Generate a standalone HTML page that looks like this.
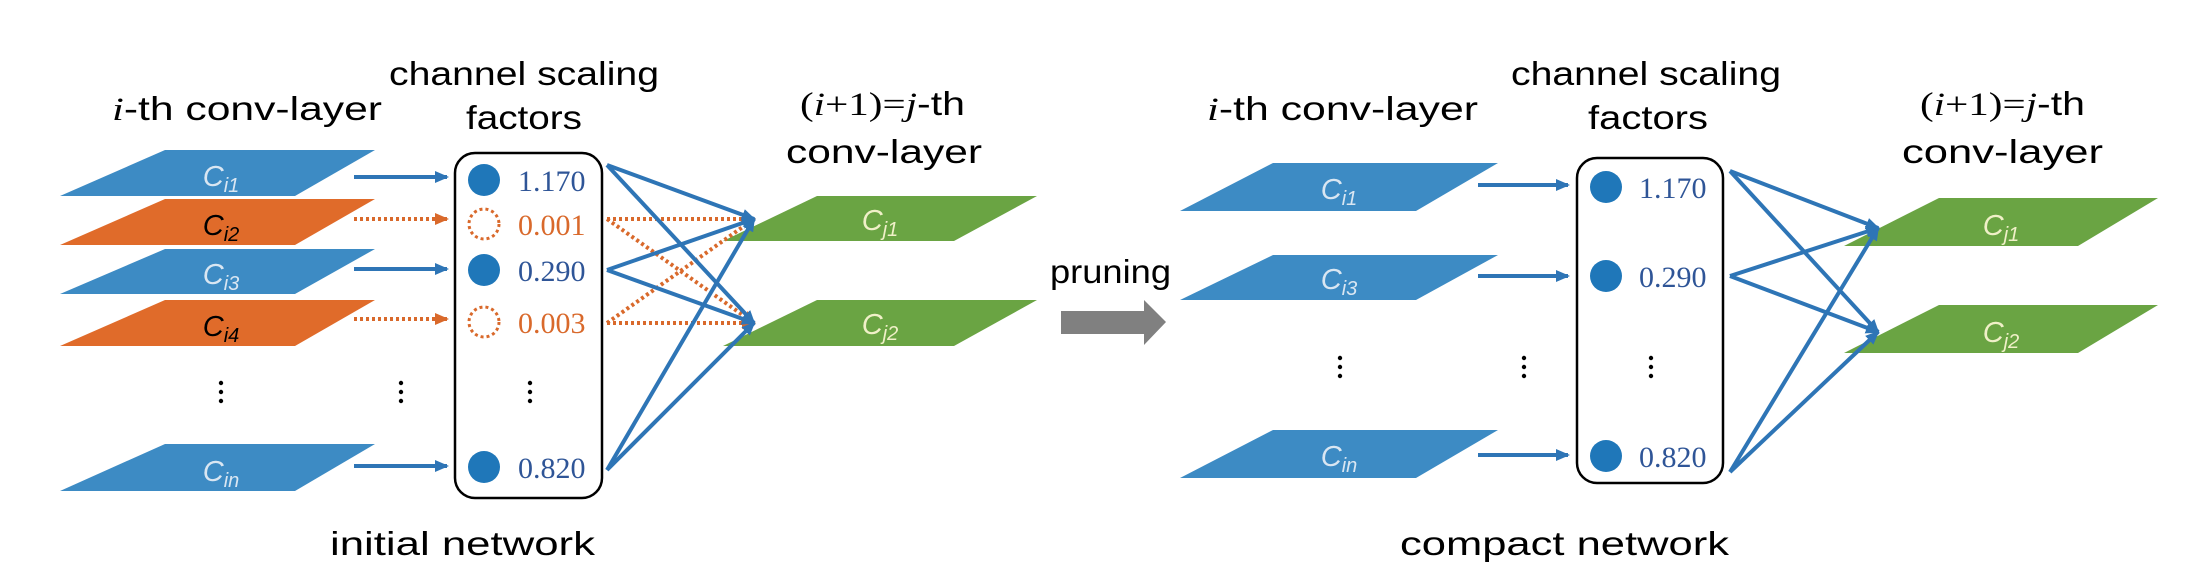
<!DOCTYPE html>
<html><head><meta charset="utf-8"><style>
html,body{margin:0;padding:0;background:#fff;}
svg{display:block;}
.t{font-family:"Liberation Sans",sans-serif;font-size:33px;fill:#000;}
.n{font-family:"Liberation Serif",serif;font-size:30px;}
.c{font-family:"Liberation Sans",sans-serif;font-style:italic;font-size:29px;}
</style></head><body>
<svg width="2197" height="578" viewBox="0 0 2197 578" xmlns="http://www.w3.org/2000/svg">
<defs>
<marker id="ab" markerWidth="14" markerHeight="14" refX="12" refY="7" orient="auto" markerUnits="userSpaceOnUse"><path d="M0,1 L14,7 L0,13 z" fill="#2e75b6"/></marker>
<marker id="ao" markerWidth="14" markerHeight="14" refX="12" refY="7" orient="auto" markerUnits="userSpaceOnUse"><path d="M0,1 L14,7 L0,13 z" fill="#d9692b"/></marker>
</defs>

<!-- LEFT PANEL -->
<text class="t" x="112" y="120" textLength="270" lengthAdjust="spacingAndGlyphs"><tspan font-family="Liberation Serif" font-style="italic">i</tspan>-th conv-layer</text>
<text class="t" x="389" y="85" textLength="270" lengthAdjust="spacingAndGlyphs">channel scaling</text>
<text class="t" x="466" y="129" textLength="116" lengthAdjust="spacingAndGlyphs">factors</text>
<text class="t" x="800" y="115" textLength="165" lengthAdjust="spacingAndGlyphs"><tspan font-family="Liberation Serif">(<tspan font-style="italic">i</tspan>+1)=<tspan font-style="italic">j</tspan></tspan>-th</text>
<text class="t" x="786" y="163" textLength="196" lengthAdjust="spacingAndGlyphs">conv-layer</text>

<polygon points="165,150 375,150 295,196 60,196" fill="#3d8bc4"/>
<polygon points="165,199 375,199 295,245 60,245" fill="#e06b2a"/>
<polygon points="165,249 375,249 295,294 60,294" fill="#3d8bc4"/>
<polygon points="165,300 375,300 295,346 60,346" fill="#e06b2a"/>
<polygon points="165,444 375,444 295,491 60,491" fill="#3d8bc4"/>
<text class="c" x="221" y="186" text-anchor="middle" fill="#d9e6f2">C<tspan font-size="20" dy="6">i1</tspan></text>
<text class="c" x="221" y="235" text-anchor="middle" fill="#000">C<tspan font-size="20" dy="6">i2</tspan></text>
<text class="c" x="221" y="284" text-anchor="middle" fill="#d9e6f2">C<tspan font-size="20" dy="6">i3</tspan></text>
<text class="c" x="221" y="336" text-anchor="middle" fill="#000">C<tspan font-size="20" dy="6">i4</tspan></text>
<text class="c" x="221" y="481" text-anchor="middle" fill="#d9e6f2">C<tspan font-size="20" dy="6">in</tspan></text>

<g stroke="#2e75b6" stroke-width="4" fill="none">
<line x1="354" y1="177" x2="447" y2="177" marker-end="url(#ab)"/>
<line x1="354" y1="269" x2="447" y2="269" marker-end="url(#ab)"/>
<line x1="354" y1="466" x2="447" y2="466" marker-end="url(#ab)"/>
</g>
<g stroke="#d9692b" stroke-width="4" stroke-dasharray="3,3" fill="none">
<line x1="354" y1="219" x2="447" y2="219" marker-end="url(#ao)"/>
<line x1="354" y1="319" x2="447" y2="319" marker-end="url(#ao)"/>
</g>

<rect x="455" y="153" width="147" height="345" rx="20" fill="none" stroke="#000" stroke-width="2.5"/>
<circle cx="484" cy="180" r="16" fill="#1f77b9"/>
<circle cx="484" cy="224" r="15" fill="none" stroke="#d9692b" stroke-width="3" stroke-dasharray="3,3"/>
<circle cx="484" cy="270" r="16" fill="#1f77b9"/>
<circle cx="484" cy="322" r="15" fill="none" stroke="#d9692b" stroke-width="3" stroke-dasharray="3,3"/>
<circle cx="484" cy="467" r="16" fill="#1f77b9"/>
<text class="n" x="518" y="191" fill="#2f5597">1.170</text>
<text class="n" x="518" y="235" fill="#d9692b">0.001</text>
<text class="n" x="518" y="281" fill="#2f5597">0.290</text>
<text class="n" x="518" y="333" fill="#d9692b">0.003</text>
<text class="n" x="518" y="478" fill="#2f5597">0.820</text>
<g fill="#000">
<circle cx="221" cy="383" r="2.2"/><circle cx="221" cy="392" r="2.2"/><circle cx="221" cy="401" r="2.2"/>
<circle cx="401" cy="383" r="2.2"/><circle cx="401" cy="392" r="2.2"/><circle cx="401" cy="401" r="2.2"/>
<circle cx="530" cy="383" r="2.2"/><circle cx="530" cy="392" r="2.2"/><circle cx="530" cy="401" r="2.2"/>
</g>

<polygon points="817,196 1037,196 954,241 723,241" fill="#6aa443"/>
<polygon points="817,300 1037,300 954,346 723,346" fill="#6aa443"/>
<text class="c" x="880" y="230" text-anchor="middle" fill="#f0f0c8">C<tspan font-size="20" dy="6">j1</tspan></text>
<text class="c" x="880" y="334" text-anchor="middle" fill="#f0f0c8">C<tspan font-size="20" dy="6">j2</tspan></text>

<g stroke="#d9692b" stroke-width="4" stroke-dasharray="3,3" fill="none">
<line x1="607" y1="219" x2="754" y2="219" marker-end="url(#ao)"/>
<line x1="607" y1="219" x2="754" y2="323" marker-end="url(#ao)"/>
<line x1="607" y1="323" x2="754" y2="323" marker-end="url(#ao)"/>
<line x1="607" y1="323" x2="754" y2="219" marker-end="url(#ao)"/>
</g>
<g stroke="#2e75b6" stroke-width="4" fill="none">
<line x1="607" y1="165" x2="754" y2="219" marker-end="url(#ab)"/>
<line x1="607" y1="165" x2="754" y2="323" marker-end="url(#ab)"/>
<line x1="607" y1="270" x2="754" y2="219" marker-end="url(#ab)"/>
<line x1="607" y1="270" x2="754" y2="323" marker-end="url(#ab)"/>
<line x1="607" y1="470" x2="754" y2="219" marker-end="url(#ab)"/>
<line x1="607" y1="470" x2="754" y2="323" marker-end="url(#ab)"/>
</g>
<text class="t" x="330" y="555" font-size="36" textLength="265" lengthAdjust="spacingAndGlyphs">initial network</text>

<!-- pruning -->
<text class="t" x="1050" y="283" textLength="121" lengthAdjust="spacingAndGlyphs">pruning</text>
<polygon points="1061,311 1144,311 1144,300 1166,322 1144,345 1144,334 1061,334" fill="#808080"/>

<!-- RIGHT PANEL -->
<text class="t" x="1207" y="120" textLength="271" lengthAdjust="spacingAndGlyphs"><tspan font-family="Liberation Serif" font-style="italic">i</tspan>-th conv-layer</text>
<text class="t" x="1511" y="85" textLength="270" lengthAdjust="spacingAndGlyphs">channel scaling</text>
<text class="t" x="1588" y="129" textLength="120" lengthAdjust="spacingAndGlyphs">factors</text>
<text class="t" x="1920" y="115" textLength="165" lengthAdjust="spacingAndGlyphs"><tspan font-family="Liberation Serif">(<tspan font-style="italic">i</tspan>+1)=<tspan font-style="italic">j</tspan></tspan>-th</text>
<text class="t" x="1902" y="163" textLength="201" lengthAdjust="spacingAndGlyphs">conv-layer</text>

<polygon points="1273,163 1498,163 1416,211 1180,211" fill="#3d8bc4"/>
<polygon points="1273,255 1498,255 1416,300 1180,300" fill="#3d8bc4"/>
<polygon points="1273,430 1498,430 1416,478 1180,478" fill="#3d8bc4"/>
<text class="c" x="1339" y="199" text-anchor="middle" fill="#d9e6f2">C<tspan font-size="20" dy="6">i1</tspan></text>
<text class="c" x="1339" y="289" text-anchor="middle" fill="#d9e6f2">C<tspan font-size="20" dy="6">i3</tspan></text>
<text class="c" x="1339" y="466" text-anchor="middle" fill="#d9e6f2">C<tspan font-size="20" dy="6">in</tspan></text>
<g stroke="#2e75b6" stroke-width="4" fill="none">
<line x1="1478" y1="185" x2="1568" y2="185" marker-end="url(#ab)"/>
<line x1="1478" y1="276" x2="1568" y2="276" marker-end="url(#ab)"/>
<line x1="1478" y1="455" x2="1568" y2="455" marker-end="url(#ab)"/>
</g>
<rect x="1577" y="158" width="146" height="325" rx="20" fill="none" stroke="#000" stroke-width="2.5"/>
<circle cx="1606" cy="187" r="16" fill="#1f77b9"/>
<circle cx="1606" cy="276" r="16" fill="#1f77b9"/>
<circle cx="1606" cy="456" r="16" fill="#1f77b9"/>
<text class="n" x="1639" y="198" fill="#2f5597">1.170</text>
<text class="n" x="1639" y="287" fill="#2f5597">0.290</text>
<text class="n" x="1639" y="467" fill="#2f5597">0.820</text>
<g fill="#000">
<circle cx="1340" cy="358" r="2.2"/><circle cx="1340" cy="367" r="2.2"/><circle cx="1340" cy="376" r="2.2"/>
<circle cx="1524" cy="358" r="2.2"/><circle cx="1524" cy="367" r="2.2"/><circle cx="1524" cy="376" r="2.2"/>
<circle cx="1651" cy="358" r="2.2"/><circle cx="1651" cy="367" r="2.2"/><circle cx="1651" cy="376" r="2.2"/>
</g>
<polygon points="1939,198 2158,198 2078,246 1844,246" fill="#6aa443"/>
<polygon points="1939,305 2158,305 2078,353 1844,353" fill="#6aa443"/>
<text class="c" x="2001" y="235" text-anchor="middle" fill="#f0f0c8">C<tspan font-size="20" dy="6">j1</tspan></text>
<text class="c" x="2001" y="342" text-anchor="middle" fill="#f0f0c8">C<tspan font-size="20" dy="6">j2</tspan></text>
<g stroke="#2e75b6" stroke-width="4" fill="none">
<line x1="1730" y1="171" x2="1878" y2="228" marker-end="url(#ab)"/>
<line x1="1730" y1="171" x2="1878" y2="332" marker-end="url(#ab)"/>
<line x1="1730" y1="276" x2="1878" y2="228" marker-end="url(#ab)"/>
<line x1="1730" y1="276" x2="1878" y2="332" marker-end="url(#ab)"/>
<line x1="1730" y1="472" x2="1878" y2="228" marker-end="url(#ab)"/>
<line x1="1730" y1="472" x2="1878" y2="332" marker-end="url(#ab)"/>
</g>
<text class="t" x="1400" y="555" font-size="36" textLength="329" lengthAdjust="spacingAndGlyphs">compact network</text>
</svg>
</body></html>
